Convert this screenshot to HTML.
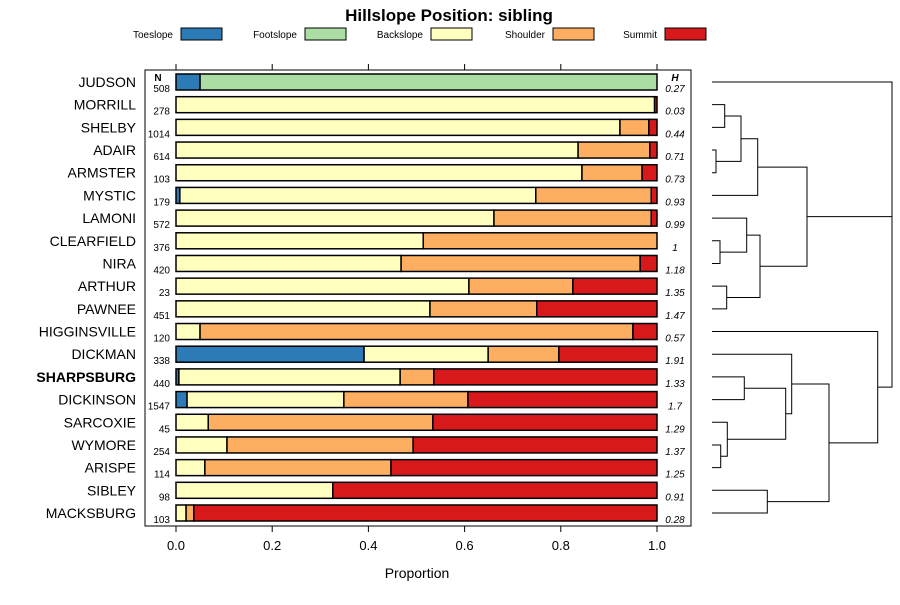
<!DOCTYPE html>
<html><head><meta charset="utf-8"><style>
body{margin:0;background:#fff;font-family:"Liberation Sans",sans-serif}
</style></head><body>
<svg id="c" width="900" height="600" xmlns="http://www.w3.org/2000/svg" font-family="Liberation Sans, sans-serif">
<text x="449" y="21" text-anchor="middle" font-size="17" font-weight="bold">Hillslope Position: sibling</text>
<g id="legend"></g>
<rect x="145" y="70" width="546" height="456" fill="none" stroke="#000"/>
<g id="bars"></g><g id="axis"></g><g id="dend" stroke="#000" fill="none"></g>
<text x="417" y="578" text-anchor="middle" font-size="14">Proportion</text>
<text x="158" y="81" text-anchor="middle" font-size="10" font-weight="bold">N</text>
<text x="675" y="81" text-anchor="middle" font-size="10" font-weight="bold" font-style="italic">H</text>
</svg>
<script>
const series=["Toeslope","Footslope","Backslope","Shoulder","Summit"];
const colors=["#2c7bb6","#abdda4","#ffffbf","#fdae61","#d7191c"];
const soils=["JUDSON","MORRILL","SHELBY","ADAIR","ARMSTER","MYSTIC","LAMONI","CLEARFIELD","NIRA","ARTHUR","PAWNEE","HIGGINSVILLE","DICKMAN","SHARPSBURG","DICKINSON","SARCOXIE","WYMORE","ARISPE","SIBLEY","MACKSBURG"];
const nVals=[508,278,1014,614,103,179,572,376,420,23,451,120,338,440,1547,45,254,114,98,103];
const hVals=["0.27","0.03","0.44","0.71","0.73","0.93","0.99","1","1.18","1.35","1.47","0.57","1.91","1.33","1.7","1.29","1.37","1.25","0.91","0.28"];
const toe=[0.05,0,0,0,0,0.008,0,0,0,0,0,0,0.391,0.006,0.023,0,0,0,0,0];
const foot=[0.95,0,0,0,0,0,0,0,0,0,0,0,0,0,0,0,0,0,0,0];
const back=[0,0.995,0.923,0.836,0.844,0.74,0.661,0.514,0.468,0.609,0.528,0.05,0.258,0.46,0.326,0.067,0.106,0.06,0.326,0.021];
const shoulder=[0,0,0.06,0.149,0.125,0.24,0.327,0.486,0.497,0.216,0.222,0.9,0.147,0.07,0.258,0.467,0.387,0.387,0,0.016];
const summit=[0,0.005,0.017,0.015,0.031,0.012,0.012,0,0.035,0.175,0.25,0.05,0.204,0.464,0.393,0.466,0.507,0.553,0.674,0.963];
const xTicks=[0,0.2,0.4,0.6,0.8,1.0];
const NS="http://www.w3.org/2000/svg";
const X=v=>176+v*481, Y=i=>82+i*22.684;
function mk(p,t,a){const e=document.createElementNS(NS,t);for(const k in a)e.setAttribute(k,a[k]);p.appendChild(e);return e;}
const L=document.getElementById('legend');
const lx=[181,305,431,553,665];
series.forEach((s,i)=>{
 const t=mk(L,'text',{x:lx[i]-8,y:38,'text-anchor':'end','font-size':10});t.textContent=s;
 
 
 const r=mk(L,'rect',{x:lx[i],y:28,width:41,height:12,fill:colors[i],stroke:'#000'});
 
 
});
const B=document.getElementById('bars');
const all=[toe,foot,back,shoulder,summit];
soils.forEach((s,i)=>{
 const y=Y(i);let c=0;
 const lab=mk(B,'text',{x:136,y:y+5,'text-anchor':'end','font-size':14,'font-weight':s==='SHARPSBURG'?'bold':'normal'});lab.textContent=s;
 
 
 all.forEach((arr,k)=>{const v=arr[i];if(v>0){
  const r=mk(B,'rect',{x:X(c),y:y-8,width:X(c+v)-X(c),height:16,fill:colors[k],stroke:'#000','stroke-width':1.5});
  
  
 }c+=v;});
 const n=mk(B,'text',{x:170,y:y+10,'text-anchor':'end','font-size':10});n.textContent=nVals[i];
 
 
 const h=mk(B,'text',{x:675,y:y+10,'text-anchor':'middle','font-size':10,'font-style':'italic'});h.textContent=hVals[i];
 
 
});
const A=document.getElementById('axis');
xTicks.forEach(v=>{
 mk(A,'line',{x1:X(v),x2:X(v),y1:526,y2:532,stroke:'#000'});
 mk(A,'line',{x1:X(v),x2:X(v),y1:64,y2:70,stroke:'#000'});
 const t=mk(A,'text',{x:X(v),y:550,'text-anchor':'middle','font-size':13});t.textContent=v.toFixed(1);
 
 
});
const D=document.getElementById('dend');


const merges=[[1,2,724.7],[3,4,716],["a","b",741],["c",5,757.7],[7,8,720],[6,"e",746.7],[9,10,726.7],["f","g",760],["d","h",807],
[13,14,744.3],[16,17,720.7],[15,"k",727.3],["j","l",785.7],[12,"m",791.7],[18,19,767.3],["n","o",829],[11,"p",877.7]];
const names="abcdefghijklmnopq";const node={};
const getNode=k=>typeof k==='number'?{x:712,y:Y(k)}:node[k];
merges.forEach((m,i)=>{const a=getNode(m[0]),b=getNode(m[1]),x=m[2];
 mk(D,'path',{d:`M${a.x},${a.y}H${x}V${b.y}H${b.x}`,'stroke-width':1});
 node[names[i]]={x:x,y:(a.y+b.y)/2};});
const topNode=node.i,botNode=node.q;
mk(D,'path',{d:`M712,${Y(0)}H892V${botNode.y}H${botNode.x}M${topNode.x},${topNode.y}H892`});
</script>
</body></html>
